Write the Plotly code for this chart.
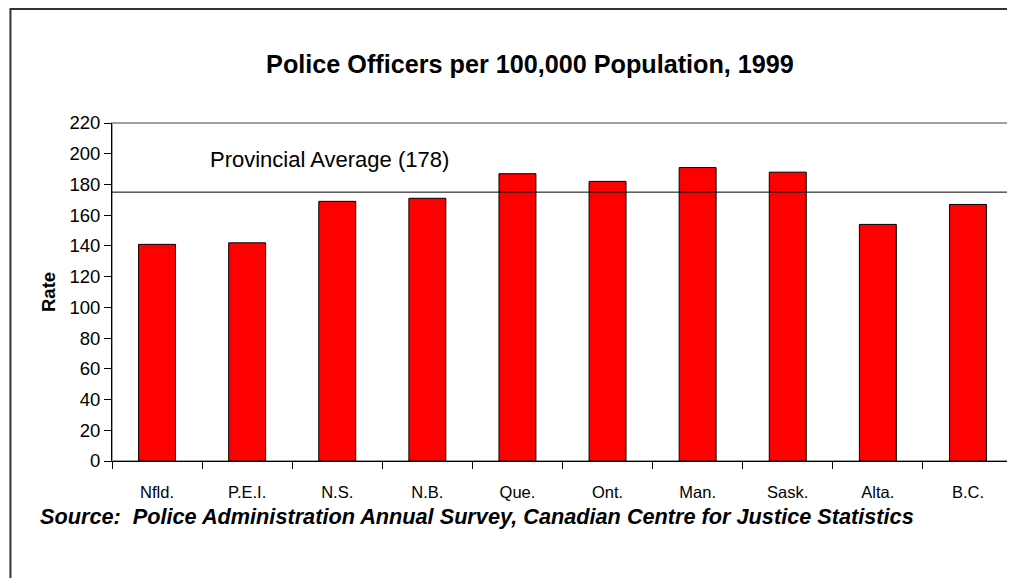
import plotly.graph_objects as go

provinces = ['Nfld.', 'P.E.I.', 'N.S.', 'N.B.', 'Que.', 'Ont.', 'Man.', 'Sask.', 'Alta.', 'B.C.']
rates = [141, 142, 169, 171, 187, 182, 191, 188, 154, 167]
avg_line = 175
avg_label = 178

font = 'Arial, Liberation Sans, sans-serif'

# the page body adds an 8px margin, so the figure is 8px smaller than the window
W, H = 1007, 570

fig = go.Figure(go.Bar(
    x=provinces,
    y=rates,
    marker=dict(color='#ff0000', line=dict(color='#000000', width=1)),
))

fig.update_layout(
    width=W, height=H,
    margin=dict(l=104, r=2, t=115, b=117),
    paper_bgcolor='white', plot_bgcolor='white',
    bargap=0.59,
    showlegend=False,
    font=dict(family=font, color='black'),
    title=dict(
        text='<b>Police Officers per 100,000 Population, 1999</b>',
        x=522 / W, xanchor='center', xref='container',
        y=1 - 56 / H, yanchor='middle', yref='container',
        font=dict(size=25.2, family=font),
    ),
    xaxis=dict(
        showline=True, linecolor='black', linewidth=1,
        ticks='outside', ticklen=7, tickcolor='black', tickson='boundaries',
        tickfont=dict(size=16.5), ticklabelstandoff=16,
    ),
    yaxis=dict(
        range=[0, 220], dtick=20, showgrid=False, zeroline=False,
        showline=True, linecolor='black', linewidth=1,
        ticks='outside', ticklen=7, tickcolor='black',
        tickfont=dict(size=18.5),
    ),
    shapes=[
        # plot area border
        dict(type='rect', xref='paper', yref='paper', x0=0, x1=1, y0=0, y1=1,
             line=dict(color='#a0a0a0', width=2), layer='below'),
        # outer chart border
        dict(type='rect', xref='paper', yref='paper', x0=-0.1127, x1=1.02, y0=-0.36, y1=1.337,
             line=dict(color='#333333', width=2), layer='below'),
        # provincial average
        dict(type='line', xref='paper', yref='y', x0=0, x1=1, y0=avg_line, y1=avg_line,
             line=dict(color='black', width=1)),
    ],
    annotations=[
        dict(text=f'Provincial Average<span style="font-size:22px"> ({avg_label})</span>',
             xref='paper', yref='y', x=(208 - 112) / 901, y=196,
             xanchor='left', yanchor='middle', showarrow=False,
             font=dict(size=22, family=font)),
        dict(text='<b>Rate</b>', xref='paper', yref='paper', x=(48 - 112) / 901, y=0.5,
             xanchor='center', yanchor='middle', textangle=-90, showarrow=False,
             font=dict(size=18.5, family=font)),
        dict(text='<b><i>Source:  Police Administration Annual Survey, Canadian Centre for Justice Statistics</i></b>',
             xref='paper', yref='paper', x=(38 - 112) / 901, y=(461 - 516) / 338,
             xanchor='left', yanchor='middle', showarrow=False,
             font=dict(size=21.7, family=font)),
    ],
)

fig.write_html('out.html')
